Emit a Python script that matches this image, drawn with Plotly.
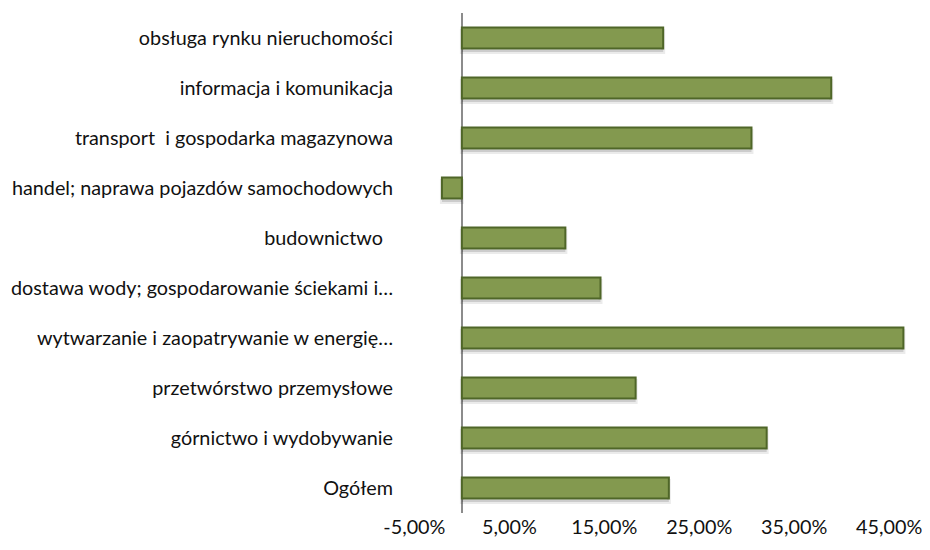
import plotly.graph_objects as go

categories = [
    "Ogółem",
    "górnictwo i wydobywanie",
    "przetwórstwo przemysłowe",
    "wytwarzanie i zaopatrywanie w energię…",
    "dostawa wody; gospodarowanie ściekami i…",
    "budownictwo\u00a0\u00a0",
    "handel; naprawa pojazdów samochodowych",
    "transport\u00a0\u00a0i gospodarka magazynowa",
    "informacja i komunikacja",
    "obsługa rynku nieruchomości",
]
values = [21.8, 32.1, 18.3, 46.5, 14.6, 10.9, -2.1, 30.5, 38.9, 21.2]
tick_vals = [-5, 5, 15, 25, 35, 45]
tick_text = ["-5,00%", "5,00%", "15,00%", "25,00%", "35,00%", "45,00%"]

fig = go.Figure()
# soft drop shadow behind each bar
fig.add_trace(go.Bar(
    y=categories,
    x=values,
    orientation="h",
    width=0.42,
    offset=-0.28,
    marker=dict(color="rgba(0,0,0,0.13)", line=dict(color="rgba(0,0,0,0.08)", width=4)),
    hoverinfo="skip",
))
fig.add_trace(go.Bar(
    y=categories,
    x=values,
    orientation="h",
    width=0.42,
    offset=-0.21,
    marker=dict(color="#83994F", line=dict(color="#4F6628", width=2)),
    hoverinfo="x+y",
))

fig.update_layout(
    width=922,
    height=542,
    margin=dict(l=395, r=0, t=5, b=37),
    paper_bgcolor="white",
    plot_bgcolor="white",
    barmode="overlay",
    showlegend=False,
    font=dict(family="Lato", size=19.8, color="#111111"),
    xaxis=dict(
        range=[-6.2, 49.3],
        tickvals=tick_vals,
        ticktext=tick_text,
        showgrid=False,
        zeroline=True,
        zerolinecolor="#8c8c8c",
        zerolinewidth=2,
        showline=False,
        ticks="",
        fixedrange=True,
    ),
    yaxis=dict(
        showgrid=False,
        zeroline=False,
        showline=False,
        ticks="",
        ticklabelstandoff=9,
        fixedrange=True,
    ),
)

fig.write_html("out.html")
